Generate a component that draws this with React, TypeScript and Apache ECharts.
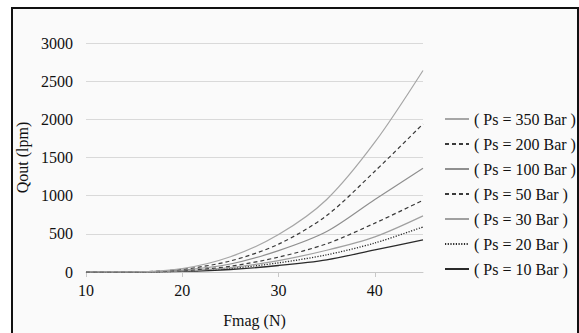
import React, { useEffect, useRef } from "react";
import * as echarts from "echarts";

const xValues = [10, 15, 20, 25, 30, 35, 40, 45];
const seriesNames = [
  "( Ps = 350 Bar )",
  "( Ps = 200 Bar )",
  "( Ps = 100 Bar )",
  "( Ps = 50 Bar )",
  "( Ps = 30 Bar )",
  "( Ps = 20 Bar )",
  "( Ps = 10 Bar )",
];
const ps350 = [0, 2, 45, 200, 490, 950, 1700, 2640];
const ps200 = [0, 2, 35, 145, 365, 740, 1320, 1940];
const ps100 = [0, 1, 25, 105, 280, 530, 950, 1360];
const ps50 = [0, 1, 18, 75, 195, 370, 640, 940];
const ps30 = [0, 1, 14, 58, 150, 285, 460, 735];
const ps20 = [0, 0, 11, 47, 120, 225, 380, 590];
const ps10 = [0, 0, 8, 33, 85, 160, 290, 420];
const seriesValues = [ps350, ps200, ps100, ps50, ps30, ps20, ps10];

const styles: { color: string; type: any; width: number }[] = [
  { color: "#a6a6a6", type: "solid", width: 1.2 },
  { color: "#3a3a3a", type: [4, 3], width: 1.2 },
  { color: "#8f8f8f", type: "solid", width: 1.2 },
  { color: "#3a3a3a", type: [4, 3], width: 1.2 },
  { color: "#a0a0a0", type: "solid", width: 1.2 },
  { color: "#2a2a2a", type: [1.2, 1.5], width: 1.3 },
  { color: "#2a2a2a", type: "solid", width: 1.3 },
];

const FONT = "'Liberation Serif', serif";

export default function App() {
  const ref = useRef<HTMLDivElement>(null);
  useEffect(() => {
    if (!ref.current) return;
    const chart = echarts.init(ref.current, undefined, { renderer: "svg" });
    const label = { fontFamily: FONT, fontSize: 16, color: "#111" };
    chart.setOption({
      animation: false,
      backgroundColor: "#ffffff",
      textStyle: { fontFamily: FONT },
      graphic: [
        {
          type: "rect",
          z: -10,
          silent: true,
          shape: { x: 12, y: 8, width: 566, height: 340 },
          style: { fill: "#fafafa", stroke: "#111111", lineWidth: 2 },
        },
      ],
      grid: { left: 86, right: 156, top: 43, bottom: 50 },
      legend: {
        orient: "vertical",
        left: 444,
        top: 111,
        padding: 0,
        itemWidth: 24,
        itemHeight: 14,
        itemGap: 9,
        itemStyle: { color: "transparent", borderColor: "transparent", borderWidth: 0 },
        textStyle: { ...label },
        data: seriesNames,
      },
      xAxis: {
        type: "value",
        min: 10,
        max: 45,
        interval: 10,
        name: "Fmag (N)",
        nameLocation: "middle",
        nameGap: 40,
        nameTextStyle: { ...label },
        axisLine: { show: true, onZero: false, lineStyle: { color: "#c8c8c8", width: 1 } },
        axisTick: { show: true, length: 5, lineStyle: { color: "#c8c8c8" } },
        axisLabel: { ...label, margin: 10, showMaxLabel: false },
        splitLine: { show: false },
      },
      yAxis: {
        type: "value",
        min: 0,
        max: 3000,
        interval: 500,
        name: "Qout (lpm)",
        nameLocation: "middle",
        nameGap: 55,
        nameTextStyle: { ...label },
        axisLine: { show: false },
        axisTick: { show: false },
        axisLabel: { ...label, margin: 13, formatter: (v: number) => String(v) },
        splitLine: { show: true, lineStyle: { color: "#d9d9d9", width: 1.2 } },
      },
      series: seriesNames.map((name, i) => ({
        name,
        type: "line",
        data: xValues.map((x, j) => [x, seriesValues[i][j]]),
        smooth: 0.3,
        symbol: "none",
        showSymbol: false,
        color: styles[i].color,
        lineStyle: { color: styles[i].color, type: styles[i].type, width: styles[i].width },
        z: 10 - i,
      })),
    });
    return () => chart.dispose();
  }, []);
  return (
    <div>
      <style>{`.chart-box svg text { font-family: 'Liberation Serif', serif !important; }`}</style>
      <div
        ref={ref}
        className="chart-box"
        style={{ position: "absolute", left: 0, top: 0, width: 579, height: 333 }}
      />
    </div>
  );
}
